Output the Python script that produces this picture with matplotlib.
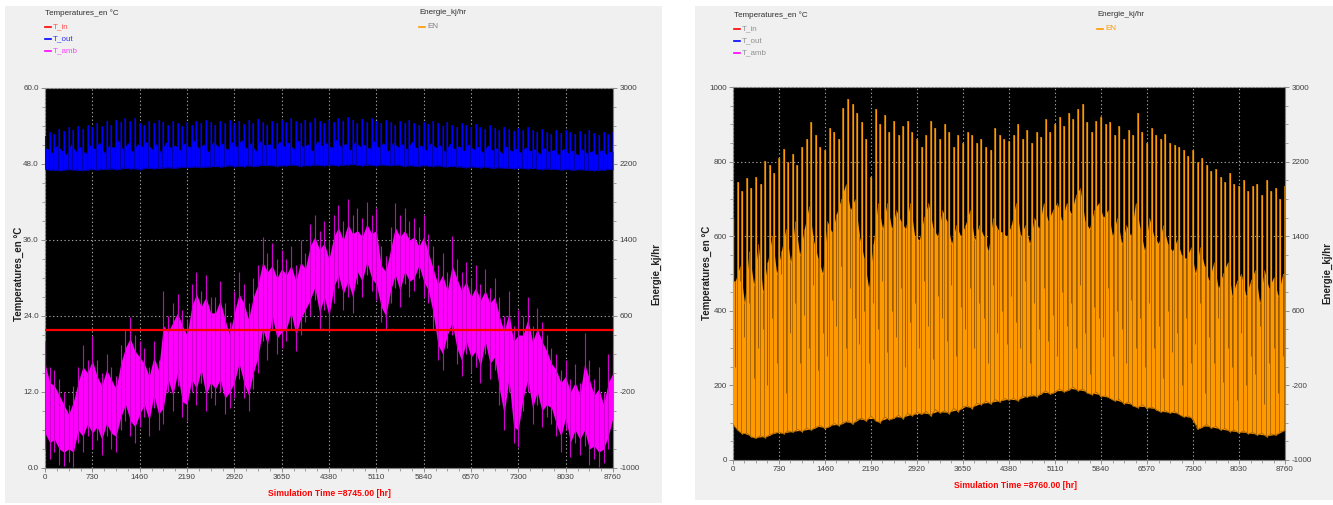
import numpy as np
import matplotlib
matplotlib.use("Agg")
import matplotlib.pyplot as plt
from matplotlib.patches import Rectangle
from matplotlib.lines import Line2D
from matplotlib.ticker import MultipleLocator, FixedLocator

# ---------------------------------------------------------------- data
# samples every 73 h over the simulated year
HOURS = np.arange(0, 8761, 73)
HOUR_TICKS = np.arange(0, 8761, 730)

T_IN = 21.8

# ambient temperature: extreme spikes and the dense inner band
tamb_hi = [20, 16, 15.5, 14, 12, 10, 13, 16, 19.5, 17, 20.8,
           17, 15, 18, 16, 14.5, 19.5, 22, 23.8, 21, 20,
           19, 16, 20, 17, 28, 24, 26, 27.5, 25, 23.5,
           29, 31, 28, 30.5, 27, 27, 29.5, 26, 23, 28,
           31, 29, 26, 30, 32, 36.5, 34, 35.5, 33, 34.5,
           33, 35, 32, 36, 34, 38.5, 40, 37.5, 39, 36,
           40, 41.5, 39, 42.5, 40, 41, 39.5, 42, 40, 41,
           35, 33.5, 38, 41.8, 40, 41, 39, 39.5, 38, 40,
           37, 35, 32, 34, 31, 36.6, 33, 31, 32.5, 30,
           32, 29, 31.5, 28.5, 30, 27, 24, 28, 22.5, 25,
           24, 27, 22.5, 25.3, 23, 21, 19, 18, 15.5, 17,
           14, 16.5, 13.5, 21.3, 17, 14, 16, 12, 18, 19]
tamb_lo = [3, 1.5, 2.5, 0.5, 0.3, 1, 0.2, 4, 2.5, 5, 3,
           4.5, 2, 5, 3, 2.5, 6, 7.5, 5, 4, 6.5,
           8, 5, 9.5, 6, 7, 12, 9, 13, 8, 7.5,
           12, 10, 13.5, 9, 11, 10, 12, 8.5, 9.5, 11,
           14, 11, 9, 12.5, 15, 20, 17, 22, 18, 19,
           20, 22, 18.5, 21, 23, 24, 26.5, 22, 25, 21.5,
           26, 28.5, 25, 27, 24.5, 29, 27, 30.5, 28, 26.5,
           23, 21.8, 26, 28.5, 25.5, 29, 27, 28, 30, 27,
           26, 22, 17, 15.5, 19, 21, 16.5, 14.5, 18, 15,
           16, 13.5, 18, 14, 15.5, 10, 6, 12, 4, 3.3,
           9, 12, 7, 10, 6.5, 8, 7, 5, 2.5, 6,
           1.7, 4, 2, 3.5, 0.5, 1.5, 0.2, 0.8, 3, 6]
tamb_core_hi = [16.5, 13.5, 13, 11.5, 10, 8.5, 10.5, 13.5, 16, 15, 17,
                14.5, 13, 15.5, 14, 12.5, 16.5, 19, 20.5, 18.5, 17.5,
                16.5, 14.5, 17.5, 15.5, 22.5, 21.5, 23, 24.5, 22.5, 21,
                25.5, 27.5, 25.5, 27, 24.5, 24.5, 26.5, 23.5, 21, 24.5,
                27.5, 26, 23.5, 27, 29, 32.5, 31, 32, 30, 31.5,
                30.5, 32, 29.5, 32.5, 31.5, 35, 36.5, 34.5, 35.5, 33,
                36.5, 38, 36, 38.5, 37, 37.5, 36.5, 38.5, 37, 37.5,
                32, 31, 34.5, 38, 36.5, 37.5, 36, 36.5, 35, 36.5,
                34, 31.5, 29, 30.5, 28, 32, 30, 28, 29.5, 27,
                28.5, 26.5, 28, 26, 27, 24, 21.5, 24.5, 20, 21,
                21, 23.5, 20, 22, 20, 18.5, 16.5, 15.5, 13.5, 14.5,
                12, 13.5, 11.5, 16.5, 14, 11.5, 12.5, 10, 13.5, 15]
tamb_core_lo = [5.5, 4, 4.5, 3, 2.5, 3, 2.5, 6, 5, 7, 5.5,
                6.5, 4.5, 7, 5.5, 5, 8, 10, 7.5, 6.5, 8.5,
                10, 7.5, 11.5, 8.5, 9.5, 14, 11.5, 15, 10.5, 10,
                14, 12.5, 15.5, 11.5, 13.5, 12.5, 14, 11, 12, 13.5,
                16.5, 13.5, 11.5, 15, 17.5, 22, 19.5, 24, 20.5, 21.5,
                22, 24.5, 21, 23.5, 25, 26.5, 28.5, 24.5, 27, 24,
                28.5, 30.5, 27.5, 29.5, 27, 31, 29.5, 32.5, 30, 29,
                25.5, 24, 28, 30.5, 28, 31, 29.5, 30, 32, 29.5,
                28, 24.5, 19.5, 18, 21, 23, 19, 17, 20, 17.5,
                18.5, 16, 20, 16.5, 17.5, 12.5, 8.5, 14, 6.5, 6,
                11, 14, 9.5, 12, 9, 10, 9.5, 7, 5, 8,
                4, 6, 4.5, 6, 3, 3.5, 2.5, 3, 5, 8]

# outlet temperature: daily peaks, solid band top between peaks, floor
tout_peak = [52.5, 53, 52.8, 53.5, 53.2, 53.8, 53.4, 54, 53.6, 54.2, 53.8,
             54.5, 54, 54.8, 54.2, 55, 54.6, 55.2, 54.8, 55.3, 54.5,
             54.2, 54.8, 54.4, 55, 54.6, 54.2, 54.8, 54.4, 54, 54.6,
             54.2, 54.8, 54.4, 55, 54.6, 54.2, 54.8, 54.5, 54.9, 54.4,
             54.8, 54.3, 54.9, 54.5, 55.1, 54.6, 54.2, 54.8, 54.4, 55,
             54.6, 55.2, 54.8, 54.4, 55, 54.6, 55.3, 54.8, 54.5, 55,
             54.6, 55.2, 54.8, 55.4, 54.9, 54.5, 55.1, 54.7, 55.3, 54.8,
             54.4, 55, 54.6, 54.2, 54.8, 54.4, 54.9, 54.5, 54.1, 54.7,
             54.3, 54.8, 54.4, 54, 54.6, 54.2, 53.9, 54.5, 54.1, 53.8,
             54.3, 53.9, 53.6, 54.1, 53.7, 53.4, 53.9, 53.5, 53.2, 53.7,
             53.3, 53.8, 53.4, 53, 53.5, 53.1, 52.8, 53.3, 52.9, 53.4,
             53, 52.7, 53.2, 52.8, 53.3, 52.9, 52.6, 53.1, 52.7, 53]
tout_trough = [50.5, 49.8, 51.0, 50.2, 49.5, 51.2, 50.0, 50.8, 49.6, 51.0,
               50.4, 51.5, 49.8, 51.0, 50.6, 51.8, 50.2, 51.4, 49.9, 51.2,
               50.8, 51.6, 50.3, 51.2, 49.8, 51.5, 50.6, 51.0, 50.2, 51.4,
               50.6, 51.8, 50.4, 51.2, 49.9, 51.6, 50.8, 51.3, 50.2, 51.5,
               50.7, 51.9, 50.5, 51.4, 50.0, 51.7, 50.9, 51.2, 50.4, 51.6,
               50.8, 51.5, 50.3, 51.8, 50.6, 51.2, 50.0, 51.7, 50.9, 51.4,
               50.5, 51.9, 50.7, 51.3, 50.2, 51.6, 50.8, 51.1, 50.4, 51.7,
               50.6, 51.4, 50.0, 51.5, 50.7, 51.2, 50.3, 51.6, 50.5, 51.0,
               50.2, 51.4, 50.6, 51.0, 49.9, 51.3, 50.4, 50.9, 50.1, 51.2,
               50.3, 50.8, 49.8, 51.0, 50.2, 50.6, 49.7, 50.9, 50.0, 50.5,
               49.8, 50.7, 50.1, 50.4, 49.6, 50.6, 49.9, 50.3, 49.5, 50.5,
               49.8, 50.2, 49.4, 50.4, 49.7, 50.1, 49.5, 50.3, 49.6, 50.0]
tout_lo = [47.2, 47.0, 47.1, 46.9, 47.0, 47.2, 47.0, 47.1, 46.9, 47.1, 47.2,
           47.0, 47.2, 47.1, 47.3, 47.1, 47.2, 47.4, 47.2, 47.3, 47.1,
           47.3, 47.4, 47.2, 47.4, 47.3, 47.5, 47.3, 47.4, 47.6, 47.4,
           47.5, 47.6, 47.4, 47.6, 47.5, 47.7, 47.5, 47.6, 47.8, 47.6,
           47.7, 47.6, 47.8, 47.6, 47.7, 47.9, 47.7, 47.8, 47.6, 47.8,
           47.7, 47.9, 47.8, 47.6, 47.8, 47.7, 47.9, 47.8, 47.7, 47.9,
           47.8, 47.7, 47.9, 47.8, 48.0, 47.8, 47.7, 47.9, 47.8, 47.7,
           47.9, 47.8, 47.7, 47.9, 47.8, 47.6, 47.8, 47.7, 47.6, 47.8,
           47.7, 47.6, 47.8, 47.6, 47.5, 47.7, 47.5, 47.6, 47.4, 47.6,
           47.5, 47.4, 47.6, 47.4, 47.3, 47.5, 47.3, 47.4, 47.2, 47.4,
           47.3, 47.2, 47.4, 47.2, 47.1, 47.3, 47.1, 47.2, 47.0, 47.2,
           47.1, 47.0, 47.2, 47.0, 47.1, 46.9, 47.1, 47.0, 47.2, 47.1]

# energy: daily peaks, solid band top between peaks, deep night dips, floor
en_peak = [650, 745, 720, 757, 730, 760, 740, 802, 790, 770, 810,
           835, 800, 820, 790, 840, 860, 905, 870, 840, 830,
           890, 880, 860, 945, 968, 955, 930, 905, 860, 760,
           940, 900, 925, 880, 910, 870, 895, 910, 880, 860,
           840, 870, 910, 890, 860, 900, 880, 840, 870, 850,
           880, 870, 850, 860, 840, 830, 890, 870, 860, 855,
           870, 900, 860, 885, 850, 880, 865, 914, 880, 900,
           920, 895, 930, 915, 940, 955, 905, 880, 910, 920,
           900, 905, 870, 895, 860, 885, 870, 930, 880, 850,
           890, 870, 860, 875, 850, 845, 840, 830, 815, 830,
           800, 810, 790, 775, 780, 760, 745, 770, 740, 735,
           750, 720, 735, 740, 710, 750, 720, 730, 700, 735]
en_trough = [480, 520, 420, 560, 470, 580, 450, 530, 600, 500,
             560, 620, 530, 640, 550, 620, 680, 590, 540, 500,
             640, 610, 660, 700, 740, 670, 700, 600, 540, 460,
             580, 690, 620, 690, 620, 670, 640, 620, 690, 600,
             590, 650, 690, 620, 600, 670, 640, 580, 630, 600,
             630, 670, 590, 630, 600, 560, 650, 620, 610, 600,
             630, 690, 600, 630, 580, 650, 620, 690, 640, 670,
             690, 640, 690, 660, 710, 730, 640, 620, 670, 690,
             650, 670, 600, 650, 580, 630, 600, 690, 620, 560,
             650, 600, 580, 630, 580, 560, 590, 550, 540, 570,
             500, 570, 520, 480, 530, 460, 500, 530, 440, 480,
             500, 440, 480, 510, 420, 510, 460, 490, 440, 500]
en_dip = [250, 480, 330, 420, 220, 300, 350, 200, 380, 260,
          500, 180, 340, 420, 260, 390, 300, 470, 240, 340,
          280, 430, 360, 520, 300, 460, 380, 310, 400, 260,
          420, 350, 480, 290, 400, 330, 460, 250, 370, 420,
          300, 480, 360, 270, 440, 380, 320, 470, 280, 410,
          350, 460, 300, 420, 380, 260, 470, 340, 400, 310,
          440, 370, 300, 480, 260, 420, 350, 460, 320, 390,
          280, 450, 360, 420, 300, 470, 340, 230, 410, 380,
          330, 460, 280, 400, 350, 260, 430, 300, 380, 250,
          420, 300, 360, 220, 400, 290, 340, 200, 380, 260,
          310, 420, 180, 330, 260, 380, 210, 300, 250, 160,
          340, 200, 280, 230, 360, 150, 260, 300, 180, 280]
en_base = [95, 80, 70, 72, 62, 58, 65, 60, 68, 72, 75,
           70, 78, 74, 82, 76, 85, 80, 88, 92, 84,
           90, 98, 92, 100, 105, 96, 108, 112, 104, 118,
           105, 100, 115, 108, 112, 120, 110, 125, 118, 128,
           122, 130, 118, 135, 126, 132, 124, 138, 130, 142,
           145, 138, 152, 148, 158, 150, 162, 155, 165, 160,
           165, 158, 172, 168, 175, 170, 178, 185, 176, 182,
           190, 182, 188, 195, 185, 190, 180, 175, 182, 170,
           172, 165, 158, 162, 150, 155, 145, 140, 148, 138,
           142, 135, 128, 132, 125, 130, 122, 115, 118, 110,
           82, 88, 95, 85, 90, 80, 84, 76, 80, 72,
           78, 70, 74, 66, 72, 62, 70, 66, 75, 80]

TEMP_TICKS = [0, 12, 24, 36, 48, 60]
EN_LEFT_TICKS = [0, 200, 400, 600, 800, 1000]
ENERGY_TICKS = [-1000, -200, 600, 1400, 2200, 3000]

# ---------------------------------------------------------------- style
W, H = 1333, 505
SMALL = ['Liberation Sans Narrow', 'Liberation Sans', 'DejaVu Sans']
BOLD = ['Liberation Sans', 'DejaVu Sans']
FS = 5.8
TXT = '#404040'
RED, BLUE, MAGENTA, ORANGE = '#ff0000', '#0000ff', '#ff00ff', '#ff9900'
MID_HOURS = HOURS[:-1] + 36.5

fig = plt.figure(figsize=(W / 100, H / 100), dpi=100)
fig.patch.set_facecolor('white')


def fx(px):
    return px / W


def fy(py):
    return 1 - py / H


def axes_px(x0, y0, x1, y1):
    return fig.add_axes([fx(x0), fy(y1), fx(x1 - x0), (y1 - y0) / H])


# grey panels
for x0, x1, y1 in [(5, 662, 503), (695, 1333, 500)]:
    fig.patches.append(Rectangle((fx(x0), fy(y1)), fx(x1 - x0), (y1 - 6) / H,
                                 transform=fig.transFigure, facecolor='#f0f0f0',
                                 edgecolor='none', zorder=-10))


def style_ticklabels(labels):
    for lab in labels:
        lab.set_fontfamily(SMALL)
        lab.set_fontsize(FS)
        lab.set_color(TXT)


def style_axes(ax, ylim, yticks, fmt, yminor):
    ax.set_facecolor('black')
    ax.set_xlim(0, 8760)
    ax.set_ylim(*ylim)
    ax.xaxis.set_major_locator(FixedLocator(HOUR_TICKS))
    ax.xaxis.set_minor_locator(MultipleLocator(182.5))
    ax.yaxis.set_major_locator(FixedLocator(yticks))
    ax.yaxis.set_minor_locator(MultipleLocator(yminor))
    ax.set_yticklabels([fmt.format(v) for v in yticks])
    ax.set_xticklabels([str(v) for v in HOUR_TICKS])
    style_ticklabels(ax.get_xticklabels() + ax.get_yticklabels())
    ax.tick_params(which='major', direction='out', length=3, width=0.6,
                   color='#808080', pad=1.5)
    ax.tick_params(which='minor', direction='out', length=2, width=0.5,
                   color='#808080')
    ax.grid(True, which='major', color='#a0a0a0', linestyle=(0, (1.2, 2.2)),
            linewidth=0.8, zorder=5)
    ax.set_axisbelow(False)
    for sp in ax.spines.values():
        sp.set_color('#808080')
        sp.set_linewidth(0.8)


def energy_twin(ax):
    ax2 = ax.twinx()
    ax2.set_ylim(-1000, 3000)
    ax2.yaxis.set_major_locator(FixedLocator(ENERGY_TICKS))
    ax2.yaxis.set_minor_locator(MultipleLocator(200))
    ax2.set_yticklabels([str(v) for v in ENERGY_TICKS])
    style_ticklabels(ax2.get_yticklabels())
    ax2.tick_params(which='major', direction='out', length=3, width=0.6,
                    color='#808080', pad=1.5)
    ax2.tick_params(which='minor', direction='out', length=2, width=0.5,
                    color='#808080')
    for sp in ax2.spines.values():
        sp.set_visible(False)
    return ax2


def spiky_band(ax, peak, trough, floor, color, edge, lw):
    """Solid band from floor up to the between-peak level, with daily spikes."""
    floor_mid = np.interp(MID_HOURS, HOURS, floor)
    xs = np.concatenate([[HOURS[0]], MID_HOURS, [HOURS[-1]]])
    top = np.concatenate([[trough[0]], trough, [trough[-1]]])
    bot = np.concatenate([[floor[0]], floor_mid, [floor[-1]]])
    ax.fill_between(xs, bot, top, color=color, lw=0, zorder=3)
    ax.vlines(HOURS, floor, peak, color=edge, lw=lw + 0.5, zorder=3)
    ax.vlines(HOURS, floor, peak, color=color, lw=lw, zorder=3)
    ax.plot(HOURS, floor, color=edge, lw=0.6, zorder=3)


def header(x_temp, x_en, top, temp_cols, en_col):
    fig.text(fx(x_temp), fy(top), 'Temperatures_en °C', fontfamily=SMALL,
             fontsize=FS, color='#303030', va='center', ha='left')
    fig.text(fx(x_en), fy(top), 'Energie_kj/hr', fontfamily=SMALL,
             fontsize=FS, color='#303030', va='center', ha='left')
    rows = [('T_in', RED), ('T_out', BLUE), ('T_amb', MAGENTA)]
    for k, (name, col) in enumerate(rows):
        yy = top + 14 + 12 * k
        fig.lines.append(Line2D([fx(x_temp), fx(x_temp + 6)], [fy(yy), fy(yy)],
                                transform=fig.transFigure, color=col, lw=1.2))
        fig.text(fx(x_temp + 8), fy(yy), name, fontfamily=SMALL, fontsize=FS,
                 color=temp_cols[k], va='center', ha='left')
    yy = top + 14
    fig.lines.append(Line2D([fx(x_en), fx(x_en + 6)], [fy(yy), fy(yy)],
                            transform=fig.transFigure, color=ORANGE, lw=1.2))
    fig.text(fx(x_en + 8), fy(yy), 'EN', fontfamily=SMALL, fontsize=FS,
             color=en_col, va='center', ha='left')


def side_labels(x_left, x_right, yc):
    fig.text(fx(x_left), fy(yc), 'Temperatures_en °C', rotation=90,
             fontfamily=BOLD, fontweight='bold', fontsize=7.0, color='#202020',
             ha='center', va='center')
    fig.text(fx(x_right), fy(yc), 'Energie_kj/hr', rotation=90,
             fontfamily=BOLD, fontweight='bold', fontsize=7.0, color='#202020',
             ha='center', va='center')


# ---------------------------------------------------------------- left panel
axL = axes_px(45, 88, 613, 468)
style_axes(axL, (0, 60), TEMP_TICKS, '{:.1f}', 3)

spiky_band(axL, tout_peak, tout_trough, tout_lo, BLUE, '#0000a0', 0.8)

axL.fill_between(HOURS, tamb_core_lo, tamb_core_hi, color=MAGENTA, lw=0,
                 zorder=3)
axL.vlines(HOURS, tamb_lo, tamb_hi, color='#d000d0', lw=0.8, zorder=3)

axL.axhline(T_IN, color=RED, lw=1.6, zorder=4)
energy_twin(axL)

header(45, 419, 13, ['#ff5050', '#3030ff', '#ff40ff'], '#808080')
side_labels(19, 656, 274)
fig.text(fx(329), fy(493), 'Simulation Time =8745.00 [hr]', color=RED,
         fontfamily=SMALL, fontweight='bold', fontsize=6.2, ha='center',
         va='center')

# ---------------------------------------------------------------- right panel
axR = axes_px(733, 87, 1285, 460)
style_axes(axR, (0, 1000), EN_LEFT_TICKS, '{:d}', 50)

spiky_band(axR, en_peak, en_trough, en_base, ORANGE, '#a86400', 0.9)
axR.vlines(MID_HOURS, en_dip, en_trough, color='#9a5c00', lw=0.7, zorder=3)
energy_twin(axR)

header(734, 1097, 15, ['#909090', '#909090', '#909090'], ORANGE)
side_labels(707, 1327, 273)
fig.text(fx(1015), fy(486), 'Simulation Time =8760.00 [hr]', color=RED,
         fontfamily=SMALL, fontweight='bold', fontsize=6.2, ha='center',
         va='center')

fig.savefig('out.png', dpi=100, facecolor='white')
